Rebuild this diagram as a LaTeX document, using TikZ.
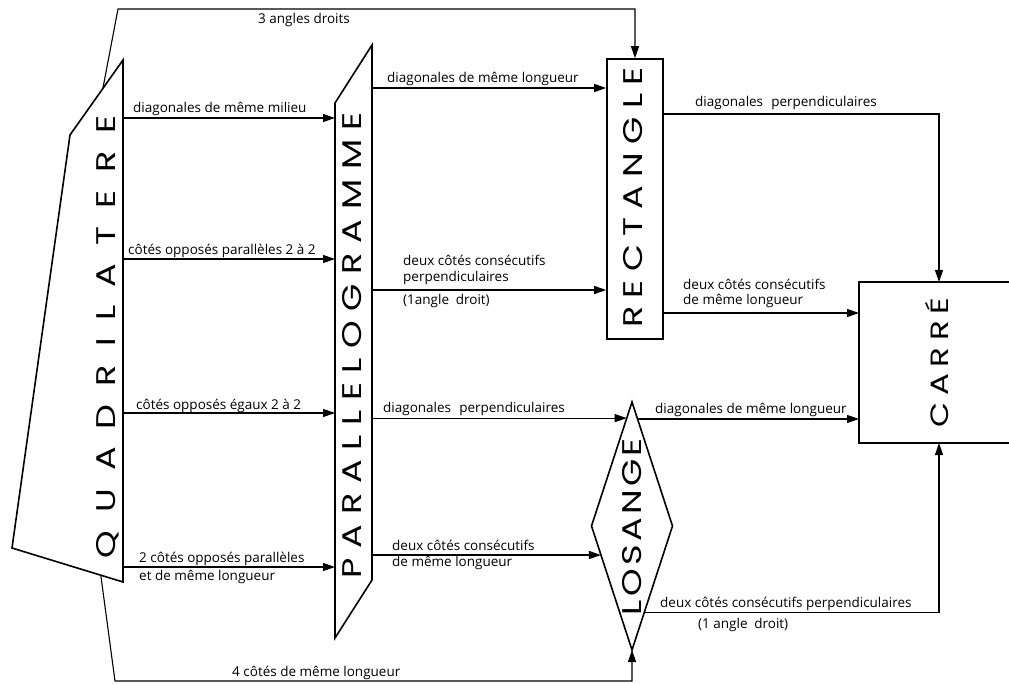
\documentclass[tikz,border=0pt]{standalone}
\usepackage{fontspec}
\setmainfont{Open Sans}
\newfontfamily\bigf{Poppins}[FakeStretch=1.3]
\usetikzlibrary{arrows.meta,shapes.geometric,calc}
\def\gap{\hskip 0pt plus 1fil minus 1fil\relax}
\begin{document}
\begin{tikzpicture}[x=1pt,y=-1pt,
  lab/.style={font=\fontsize{13.5}{15}\selectfont, anchor=base west, inner sep=0pt},
  arr/.style={line width=1.1pt, -{Triangle[length=12pt,width=8pt]}},
  conn/.style={line width=1.1pt},
  shp/.style={line width=1.6pt, line join=miter},
  big/.style={font=\bigf\fontsize{27}{27}\selectfont, rotate=90, inner sep=0pt, text height=19pt, text depth=0pt, anchor=center},
  ghost/.style={draw=none, inner sep=0pt, outer sep=0pt},
]
\useasboundingbox (0,0) rectangle (1009,684);
% helper coordinates
\coordinate (edgeR) at (1009,0);
\foreach \yy in {9,88,114,118,259,290,313,413,567,681} {\coordinate (y\yy) at (0,\yy);}

% ---------- shapes ----------
% quadrilatere
\coordinate (qa) at (123,60);
\coordinate (qb) at (70,135);
\coordinate (qc) at (12,548);
\coordinate (qd) at (123,582);
\draw[shp] (qa) -- (qb) -- (qc) -- (qd) -- cycle;
\node[ghost, minimum width=111pt, minimum height=522pt] (quad) at (67.5,321) {};
% parallelogramme
\draw[shp] (335,103) -- (372,45) -- (372,580) -- (335,638) -- cycle;
\node[ghost, minimum width=37pt, minimum height=593pt] (para) at (353.5,341.5) {};
% rectangle
\node[draw, shp, inner sep=0pt, minimum width=56pt, minimum height=280pt] (rect) at (635,199) {};
% losange
\node[draw, shp, diamond, inner sep=0pt, outer sep=0pt, minimum width=81pt, minimum height=248pt] (los) at (632,526) {};
% carre
\node[ghost, minimum width=160pt, minimum height=161pt] (carre) at (939,362.5) {};
\draw[shp] (carre.north west -| edgeR) -- (carre.north west) -- (carre.south west) -- (carre.south west -| edgeR);

% ---------- big titles ----------
\node[big] (tq) at (106,336.5) {\makebox[443pt][s]{Q\gap U\gap A\gap D\gap R\gap I\gap L\gap A\gap T\gap E\gap R\gap E}};
\node[big] (tp) at (352,345) {\makebox[466pt][s]{P\gap A\gap R\gap A\gap L\gap L\gap E\gap L\gap O\gap G\gap R\gap A\gap M\gap M\gap E}};
\node[big] (tr) at (633,197.5) {\makebox[261pt][s]{R\gap E\gap C\gap T\gap A\gap N\gap G\gap L\gap E}};
\node[big] (tl) at (632,526.5) {\makebox[177pt][s]{L\gap O\gap S\gap A\gap N\gap G\gap E}};
\node[big, font=\bigf\fontsize{25}{25}\selectfont, text height=17.5pt] (tc) at (940,362.5) {\makebox[129pt][s]{C\gap A\gap R\gap R\gap É}};

% ---------- connectors ----------
\coordinate (s3) at ($(qb)!0.62!(qa)$);
\coordinate (b3) at (118,9);
\draw[arr] (s3) -- (b3) -| (rect.north);
\coordinate (s4) at ($(qc)!0.80!(qd)$);
\coordinate (b4) at (115,681);
\draw[arr] (s4) -- (b4) -| (los.south);

\draw[arr] (quad.east |- y118) -- (para.west |- y118);
\draw[arr] (quad.east |- y259) -- (para.west |- y259);
\draw[arr] (quad.east |- y413) -- (para.west |- y413);
\draw[arr] (quad.east |- y567) -- (para.west |- y567);

\draw[arr] (para.east |- y88) -- (rect.west |- y88);
\draw[arr] (para.east |- y290) -- (rect.west |- y290);

\coordinate (lA) at ($(los.north)!0.13!(los.west)$);
\coordinate (lB) at ($(los.west)!0.234!(los.south)$);
\coordinate (lC) at ($(los.north)!0.137!(los.east)$);
\coordinate (lD) at ($(los.east)!0.694!(los.south)$);
\draw[arr] (para.east |- lA) -- (lA);
\draw[arr] (para.east |- lB) -- (lB);

\draw[arr] (rect.east |- y114) -| (carre.north);
\draw[arr] (rect.east |- y313) -- (carre.west |- y313);
\draw[arr] (lC) -- (carre.west |- lC);
\draw[arr] (lD) -| (carre.south);

% ---------- labels ----------
\node[lab] (L0) at (258,24) {3 angles droits};
\node[lab] (L14) at (232,676) {4 côtés de même longueur};
\node[lab] (L1) at (133,113) {diagonales de même milieu};
\node[lab] (L2) at (128,255) {côtés opposés parallèles 2 à 2};
\node[lab] (L3) at (136,409) {côtés opposés égaux 2 à 2};
\node[lab] (L4a) at (139,562) {2 côtés opposés parallèles};
\node[lab] (L4b) at (139,580) {et de même longueur};
\node[lab] (L5) at (387,83) {diagonales de même longueur};
\node[lab] (L6a) at (403,266) {deux côtés consécutifs};
\node[lab] (L6b) at (403,282) {perpendiculaires};
\node[lab] (L6c) at (403,305) {(1angle\hspace{0.5em}droit)};
\node[lab] (L7) at (383,412) {diagonales\hspace{0.6em}perpendiculaires};
\node[lab] (L8a) at (392,550) {deux côtés consécutifs};
\node[lab] (L8b) at (392,566) {de même longueur};
\node[lab] (L9) at (695,107) {diagonales\hspace{0.6em}perpendiculaires};
\node[lab] (L10a) at (683,290) {deux côtés consécutifs};
\node[lab] (L10b) at (683,305) {de même longueur};
\node[lab] (L11) at (655,413) {diagonales de même longueur};
\node[lab] (L12a) at (660,607) {deux côtés consécutifs perpendiculaires};
\node[lab] (L12b) at (698,628) {(1 angle\hspace{0.5em}droit)};
\end{tikzpicture}
\end{document}
